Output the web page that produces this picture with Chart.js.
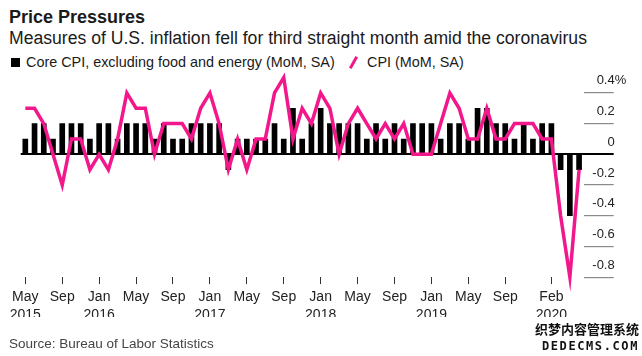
<!DOCTYPE html>
<html>
<head>
<meta charset="utf-8">
<script src="https://cdn.jsdelivr.net/npm/chart.js@4.4.1/dist/chart.umd.min.js"></script>
<style>
  html, body { margin: 0; padding: 0; background: #fff; }
  body { width: 642px; height: 356px; position: relative; overflow: hidden; font-family: 'Liberation Sans', Arial, sans-serif; color: #1a1a1a; }
  #c { position: absolute; left: 0; top: 0; }
  .t { position: absolute; white-space: nowrap; line-height: 1; }
  #title { left: 9px; top: 8px; font-size: 18px; font-weight: bold; }
  #sub { left: 9px; top: 30px; font-size: 17.6px; }
  #leg { left: 26px; top: 55px; font-size: 14.4px; }
  #leg2 { left: 367px; top: 55px; font-size: 14.4px; }
  #src { left: 9px; top: 337px; font-size: 13.5px; color: #444; }
  .sq { position: absolute; left: 11px; top: 58px; width: 9px; height: 9px; background: #000; }
  .sl { position: absolute; left: 352px; top: 56px; width: 3px; height: 13px; background: #f3178c; transform: rotate(30deg); }
  #wm1 { right: 3px; top: 322px; font-size: 13px; font-weight: bold; font-family: 'Noto Sans CJK SC', sans-serif; color: #111; text-shadow: 0 0 2px #fff; }
  #wm2 { right: 3px; top: 340px; font-size: 12px; font-weight: bold; letter-spacing: 1.6px; font-family: 'DejaVu Sans Mono', monospace; color: #111; }
</style>
</head>
<body>
<div class="t" id="title">Price Pressures</div>
<div class="t" id="sub">Measures of U.S. inflation fell for third straight month amid the coronavirus</div>
<div class="sq"></div>
<div class="t" id="leg">Core CPI, excluding food and energy (MoM, SA)</div>
<div class="sl"></div>
<div class="t" id="leg2">CPI (MoM, SA)</div>
<canvas id="c" width="642" height="356"></canvas>
<div class="t" id="src">Source: Bureau of Labor Statistics</div>
<div class="t" id="wm1">织梦内容管理系统</div>
<div class="t" id="wm2">DEDECMS.COM</div>
<script>
const months = [
  'May 2015','Jun 2015','Jul 2015','Aug 2015','Sep 2015','Oct 2015','Nov 2015','Dec 2015',
  'Jan 2016','Feb 2016','Mar 2016','Apr 2016','May 2016','Jun 2016','Jul 2016','Aug 2016','Sep 2016','Oct 2016','Nov 2016','Dec 2016',
  'Jan 2017','Feb 2017','Mar 2017','Apr 2017','May 2017','Jun 2017','Jul 2017','Aug 2017','Sep 2017','Oct 2017','Nov 2017','Dec 2017',
  'Jan 2018','Feb 2018','Mar 2018','Apr 2018','May 2018','Jun 2018','Jul 2018','Aug 2018','Sep 2018','Oct 2018','Nov 2018','Dec 2018',
  'Jan 2019','Feb 2019','Mar 2019','Apr 2019','May 2019','Jun 2019','Jul 2019','Aug 2019','Sep 2019','Oct 2019','Nov 2019','Dec 2019',
  'Jan 2020','Feb 2020','Mar 2020','Apr 2020','May 2020'
];
const coreCPI = [
  0.1,0.2,0.2,0.1,0.2,0.2,0.2,0.1,
  0.2,0.2,0.1,0.2,0.2,0.2,0.1,0.2,0.1,0.1,0.2,0.2,
  0.2,0.2,-0.1,0.1,0.1,0.1,0.1,0.2,0.1,0.3,0.1,0.2,
  0.3,0.2,0.2,0.2,0.2,0.1,0.2,0.1,0.2,0.1,0.2,0.2,
  0.2,0.1,0.2,0.2,0.1,0.3,0.3,0.2,0.2,0.1,0.2,0.1,
  0.2,0.2,-0.1,-0.4,-0.1
];
const cpi = [
  0.3,0.3,0.2,0.0,-0.2,0.1,0.1,-0.1,
  0.0,-0.1,0.1,0.4,0.3,0.3,0.0,0.2,0.2,0.2,0.1,0.3,
  0.4,0.2,-0.1,0.1,-0.1,0.1,0.1,0.4,0.5,0.1,0.3,0.2,
  0.4,0.3,0.0,0.2,0.3,0.2,0.1,0.2,0.1,0.2,0.0,0.0,
  0.0,0.2,0.4,0.3,0.1,0.1,0.3,0.1,0.1,0.2,0.2,0.2,
  0.1,0.1,-0.4,-0.8,-0.1
];
const xTickLabels = {
  'May 2015': ['May','2015'], 'Sep 2015': ['Sep'],
  'Jan 2016': ['Jan','2016'], 'May 2016': ['May'], 'Sep 2016': ['Sep'],
  'Jan 2017': ['Jan','2017'], 'May 2017': ['May'], 'Sep 2017': ['Sep'],
  'Jan 2018': ['Jan','2018'], 'May 2018': ['May'], 'Sep 2018': ['Sep'],
  'Jan 2019': ['Jan','2019'], 'May 2019': ['May'], 'Sep 2019': ['Sep'],
  'Feb 2020': ['Feb','2020']
};
const yTicks = [-0.8, -0.6, -0.4, -0.2, 0, 0.2, 0.4];
const yTickLabels = ['-0.8', '-0.6', '-0.4', '-0.2', '0', '0.2', '0.4%'];

const FONT = "'Liberation Sans', Arial, sans-serif";
const PINK = '#f3178c';

const yLabelPlugin = {
  id: 'yLabels',
  afterDraw(chart) {
    const s = chart.scales.y;
    const ctx = chart.ctx;
    ctx.save();
    ctx.font = '13px ' + FONT;
    ctx.fillStyle = '#222';
    ctx.textBaseline = 'alphabetic';
    const xr = s.left + 31;
    yTicks.forEach((v, i) => {
      const y = s.getPixelForValue(v) - 8.5;
      let lab = yTickLabels[i];
      let suffix = '';
      if (lab.endsWith('%')) { suffix = '%'; lab = lab.slice(0, -1); }
      ctx.textAlign = 'right';
      ctx.fillText(lab, xr, y);
      if (suffix) { ctx.textAlign = 'left'; ctx.fillText(suffix, xr, y); }
    });
    ctx.restore();
  }
};

const X_H = 40;
new Chart(document.getElementById('c'), {
  type: 'bar',
  data: {
    labels: months,
    datasets: [
      { type: 'line', label: 'CPI (MoM, SA)', data: cpi, borderColor: PINK, borderWidth: 3.5,
        pointRadius: 0, tension: 0, order: 0, clip: false, fill: false },
      { type: 'bar', label: 'Core CPI, excluding food and energy (MoM, SA)', data: coreCPI,
        backgroundColor: '#000', barThickness: 5, order: 1 }
    ]
  },
  options: {
    responsive: false,
    animation: false,
    devicePixelRatio: 1,
    layout: { padding: { left: 20.7, right: 27.3, top: 69.9, bottom: 356 - 277.1 - X_H } },
    plugins: { legend: { display: false }, tooltip: { enabled: false }, title: { display: false } },
    scales: {
      x: {
        type: 'category',
        offset: true,
        border: { display: false },
        grid: { offset: false, drawOnChartArea: false, drawTicks: true, tickLength: 7, color: '#333', lineWidth: 1 },
        ticks: {
          autoSkip: false, maxRotation: 0, minRotation: 0, padding: 4, color: '#222',
          font: { family: FONT, size: 14, lineHeight: 1.29 },
          callback: (val, idx) => (xTickLabels[months[idx]] !== undefined ? xTickLabels[months[idx]] : null)
        },
        afterFit: (s) => { s.height = X_H; }
      },
      y: {
        position: 'right',
        min: -0.8,
        max: 0.55,
        afterBuildTicks: (s) => { s.ticks = yTicks.map(v => ({ value: v })); },
        border: { display: false },
        grid: {
          drawOnChartArea: true, drawTicks: true, tickLength: 30,
          color: (c) => (c.tick && c.tick.value === 0 ? '#000' : 'rgba(0,0,0,0)'),
          tickColor: (c) => (c.tick && c.tick.value === 0 ? '#000' : '#8a8a8a'),
          lineWidth: (c) => (c.tick && c.tick.value === 0 ? 2 : 1.2)
        },
        ticks: { display: false },
        afterFit: (s) => { s.width = 31; }
      }
    }
  },
  plugins: [yLabelPlugin]
});
</script>
</body>
</html>
